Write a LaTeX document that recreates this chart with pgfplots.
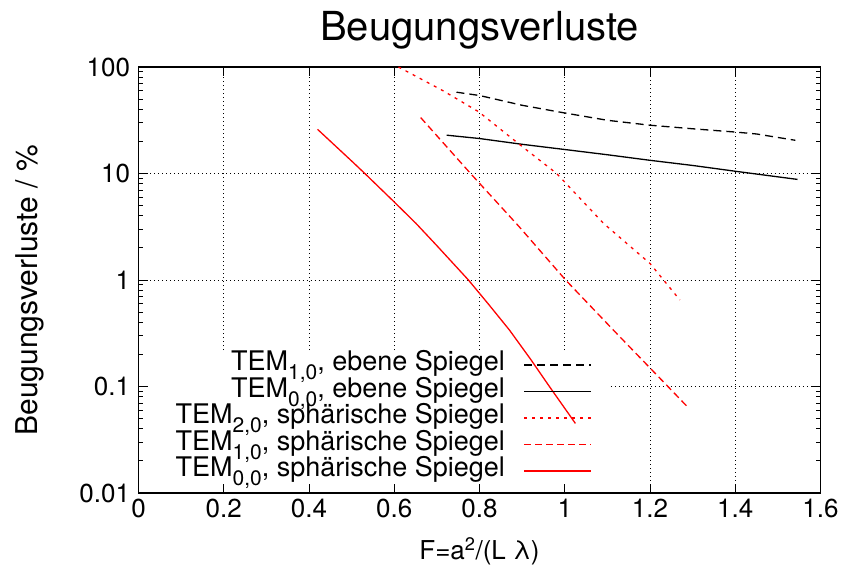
\documentclass[border=0pt]{standalone}
\usepackage{pgfplots}
\pgfplotsset{compat=1.18}
\usepackage{fontspec}
\setmainfont{TeX Gyre Heros}
\newcommand\sub[1]{\raisebox{-0.33em}{\fontsize{21}{21}\selectfont #1}}
\definecolor{myred}{RGB}{255,0,0}
\tikzset{mygrid/.style={black, line width=0.7pt, dash pattern=on 1pt off 3pt}}

\begin{document}
\begin{tikzpicture}
\begin{axis}[
  scale only axis,
  width=682pt, height=426pt,
  at={(0,0)}, anchor=south west,
  xmin=0, xmax=1.6,
  ymode=log, ymin=0.01, ymax=100,
  xtick={0,0.2,0.4,0.6,0.8,1,1.2,1.4,1.6},
  xticklabels={0,0.2,0.4,0.6,0.8,1,1.2,1.4,1.6},
  ytick={0.01,0.1,1,10,100},
  yticklabels={0.01,0.1,1,10,100},
  minor xtick={},
  /pgf/number format/assume math mode=true,
  tick align=inside,
  major tick length=9pt,
  minor tick length=5pt,
  tick style={black, line width=0.9pt},
  axis line style={black, line width=1.3pt},
  ticklabel style={font=\fontsize{26}{30}\selectfont},
  xticklabel style={yshift=-3pt},
  yticklabel style={xshift=-5pt},
  xlabel={F=a\textsuperscript{2}/(L λ)},
  ylabel={Beugungsverluste / \%},
  xlabel style={font=\fontsize{26}{30}\selectfont, at={(rel axis cs:0.5,-0.157)}, anchor=base},
  ylabel style={font=\fontsize{30}{34}\selectfont, at={(rel axis cs:-0.1488,0.476)}, anchor=base},
  title={Beugungsverluste},
  title style={font=\fontsize{40}{46}\selectfont, at={(0.5,1)}, anchor=base, yshift=20pt},
  legend plot pos=right,
  legend cell align=right,
  legend image code/.code={\draw[#1] (0pt,0pt) -- (67pt,0pt);},
  legend style={draw=none, fill=none, at={(rel axis cs:0.665,0.332)}, anchor=north east,
    font=\fontsize{27}{30}\selectfont, row sep=0pt, inner sep=0pt,
    nodes={inner sep=0.5pt, text height=18.5pt, text depth=7pt},
    /tikz/every odd column/.append style={column sep=18pt}},
]
% grid (interrupted by the opaque legend area, as in the reference)
\draw[mygrid] (axis cs:0.2,0.22) -- (axis cs:0.2,100);
\draw[mygrid] (axis cs:0.4,0.22) -- (axis cs:0.4,100);
\draw[mygrid] (axis cs:0.6,0.22) -- (axis cs:0.6,100);
\draw[mygrid] (axis cs:0.8,0.22) -- (axis cs:0.8,100);
\draw[mygrid] (axis cs:1.0,0.22) -- (axis cs:1.0,100);
\draw[mygrid] (axis cs:1.2,0.01) -- (axis cs:1.2,100);
\draw[mygrid] (axis cs:1.4,0.01) -- (axis cs:1.4,100);
\draw[mygrid] (axis cs:0,10) -- (axis cs:1.6,10);
\draw[mygrid] (axis cs:0,1) -- (axis cs:1.6,1);
\draw[mygrid] (axis cs:1.108,0.1) -- (axis cs:1.6,0.1);

\addplot[black, line width=1.3pt, dash pattern=on 8pt off 5pt] coordinates {
(0.746,58)(0.8,54)(0.9,43.7)(1.0,37)(1.1,31.6)(1.2,28.4)(1.3,26.3)(1.4,24.5)(1.45,23.5)(1.541,20.5)};
\addlegendentry{TEM\sub{1,0}, ebene Spiegel}

\addplot[black, line width=1.3pt] coordinates {
(0.723,22.9)(0.8,21.3)(0.9,18.8)(1.0,16.8)(1.1,15)(1.2,13.3)(1.3,11.9)(1.4,10.5)(1.546,8.8)};
\addlegendentry{TEM\sub{0,0}, ebene Spiegel}

\addplot[myred, line width=1.3pt, dash pattern=on 3pt off 5pt] coordinates {
(0.61,100)(0.714,60)(0.798,38)(0.892,19)(0.981,10)(1.091,3.4)(1.2,1.43)(1.27,0.65)};
\addlegendentry{TEM\sub{2,0}, sphärische Spiegel}

\addplot[myred, line width=1.3pt, dash pattern=on 7pt off 4pt] coordinates {
(0.662,33.5)(0.779,10)(0.892,3.2)(1.002,1)(1.12,0.32)(1.242,0.1)(1.287,0.065)};
\addlegendentry{TEM\sub{1,0}, sphärische Spiegel}

\addplot[myred, line width=1.3pt] coordinates {
(0.42,26)(0.5,13.1)(0.531,10)(0.6,5.4)(0.651,3.4)(0.7,2.1)(0.774,1)(0.82,0.6)(0.87,0.34)(0.92,0.18)(0.964,0.1)(1.025,0.045)};
\addlegendentry{TEM\sub{0,0}, sphärische Spiegel}
\end{axis}
\pgfresetboundingbox
\path (-138.5pt,-79pt) rectangle (707.5pt,493pt);
\end{tikzpicture}
\end{document}
